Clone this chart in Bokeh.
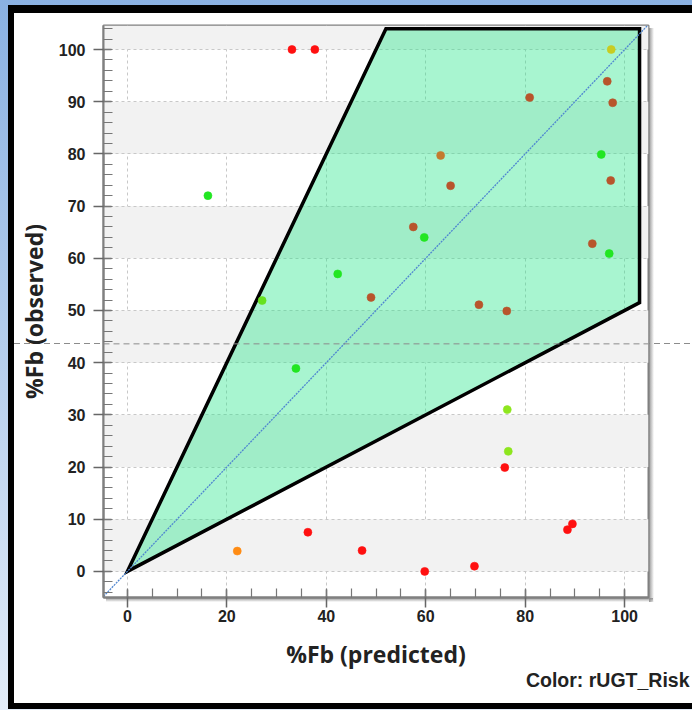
from bokeh.plotting import figure
from bokeh.models import FixedTicker, ColumnDataSource, Range1d, Span, Title
from bokeh.embed import file_html
from bokeh.resources import INLINE

# ---------------- data ----------------
pred = [33.1, 37.7, 97.3, 96.5, 97.6, 80.9, 63.0, 95.3, 65.0, 97.2, 16.2, 57.5, 59.7,
        93.5, 96.9, 42.3, 27.1, 49.0, 70.7, 76.3, 33.9, 76.4, 76.6, 75.9, 88.5, 89.5,
        22.1, 36.3, 47.2, 59.8, 69.8]
obs = [100.0, 100.0, 100.0, 93.9, 89.8, 90.8, 79.7, 79.9, 73.9, 74.9, 72.0, 66.0, 64.0,
       62.8, 60.9, 57.0, 51.9, 52.5, 51.1, 49.9, 38.9, 31.0, 23.0, 19.9, 8.0, 9.1,
       3.9, 7.5, 4.0, 0.0, 1.0]
risk_colors = ["#ff1010", "#ff1010", "#c8cc22", "#b8552c", "#b8552c", "#b8552c", "#c47a2e",
               "#22e622", "#b8552c", "#b8552c", "#22e622", "#b8552c", "#22e622",
               "#b8552c", "#22e622", "#22e622", "#66e21e", "#b8552c", "#b8552c", "#b8552c",
               "#22e622", "#8ee61e", "#8ee61e", "#ff1010", "#ff1010", "#ff1010",
               "#ff8c14", "#ff1010", "#ff1010", "#ff1010", "#ff1010"]

x_ticks = [0, 20, 40, 60, 80, 100]
y_ticks = [0, 10, 20, 30, 40, 50, 60, 70, 80, 90, 100]
x_minor = list(range(-5, 106, 5))
y_minor = list(range(-4, 105, 2))

X_LO, X_HI = -4.8, 104.8
Y_LO, Y_HI = -5.0, 104.6

upper_slope, lower_slope = 2.0, 0.5      # acceptance wedge
zone_x_max, zone_y_max = 103.0, 104.0
threshold = 43.6                          # dashed reference level

x_title = "%Fb (predicted)"
y_title = "%Fb (observed)"
color_note = "Color: rUGT_Risk"

# ---------------- figure ----------------
W, H = 692, 710
p = figure(width=W, height=H, output_backend="svg", toolbar_location=None,
           x_range=Range1d(X_LO, X_HI), y_range=Range1d(Y_LO, Y_HI),
           min_border_left=103, min_border_right=44, min_border_top=25, min_border_bottom=113)

# panel decoration (blue backdrop, black frame, white card, frame shadow,
# dashed reference line outside the plot frame) painted behind a transparent border
p.border_fill_alpha = 0
p.styles = {
    "background": (
        "linear-gradient(to right, rgba(140,140,140,0.9), rgba(180,180,180,0)) 649px 28px / 5px 574px no-repeat, "
        "linear-gradient(to bottom, rgba(140,140,140,0.9), rgba(180,180,180,0)) 106px 598px / 547px 4px no-repeat, "
        "repeating-linear-gradient(to right, #8c8c8c 0px, #8c8c8c 6px, transparent 6px, transparent 10px) 14px 343px / 678px 1px no-repeat, "
        "linear-gradient(white, white) 14px 13px / 678px 690px no-repeat, "
        "linear-gradient(black, black) 8px 5px / 684px 704px no-repeat, "
        "linear-gradient(to bottom, #8ab1e2, #e2ecf8)"
    )
}
p.background_fill_color = "white"
p.outline_line_color = "#808080"
p.outline_line_width = 2

# grids
p.xgrid.ticker = FixedTicker(ticks=x_ticks)
p.ygrid.ticker = FixedTicker(ticks=[Y_LO] + y_ticks + [Y_HI])
for g in (p.xgrid, p.ygrid):
    g.grid_line_color = "#c8c8c8"
    g.grid_line_dash = "3 3"
    g.grid_line_width = 1
p.ygrid.band_fill_color = "#f2f2f2"
p.ygrid.band_fill_alpha = 1.0

# axes
p.xaxis.ticker = FixedTicker(ticks=x_ticks, minor_ticks=x_minor)
p.yaxis.ticker = FixedTicker(ticks=y_ticks, minor_ticks=y_minor)
for ax in (p.xaxis, p.yaxis):
    ax.axis_line_color = "#808080"
    ax.axis_line_width = 2
    ax.major_tick_out = 10
    ax.major_tick_in = 8
    ax.major_tick_line_color = "#666666"
    ax.major_tick_line_width = 1.5
    ax.minor_tick_in = 9
    ax.minor_tick_out = 0
    ax.minor_tick_line_color = "#777777"
    ax.minor_tick_line_width = 1.2
    ax.major_label_text_font = "Liberation Sans"
    ax.major_label_text_font_style = "bold"
    ax.major_label_text_font_size = "16px"
    ax.major_label_text_color = "#222222"
    ax.axis_label_text_font = "Open Sans"
    ax.axis_label_text_font_style = "bold"
    ax.axis_label_text_font_size = "23px"
    ax.axis_label_text_color = "#222222"
p.xaxis.axis_label = x_title
p.yaxis.axis_label = y_title
p.xaxis.major_label_standoff = 2
p.yaxis.major_label_standoff = 8
p.xaxis.axis_label_standoff = 13
p.yaxis.axis_label_standoff = 6

# acceptance wedge
wedge_x = [0, zone_y_max / upper_slope, zone_x_max, zone_x_max]
wedge_y = [0, zone_y_max, zone_y_max, zone_x_max * lower_slope]
p.patch(wedge_x, wedge_y, fill_color="#25e689", fill_alpha=0.4,
        line_color="black", line_width=3.5, line_join="miter")

# identity line
p.line([X_LO, X_HI], [X_LO, X_HI], line_color="#4f86d0", line_width=1.3, line_dash="2 1")

# dashed reference level inside the frame
p.add_layout(Span(location=threshold, dimension="width", line_color="#8c8c8c",
                  line_width=1, line_dash="6 4", level="overlay"))

# points
src = ColumnDataSource(dict(x=pred, y=obs, c=risk_colors))
p.scatter("x", "y", source=src, size=8, fill_color="c", line_color="c", line_alpha=0.6)

# colour note
note = Title(text=color_note, align="right", offset=-41, standoff=-12,
             text_font="Liberation Sans", text_font_style="bold",
             text_font_size="19.5px", text_color="#222222")
p.add_layout(note, "below")

open("out.html", "w").write(file_html(p, INLINE))
